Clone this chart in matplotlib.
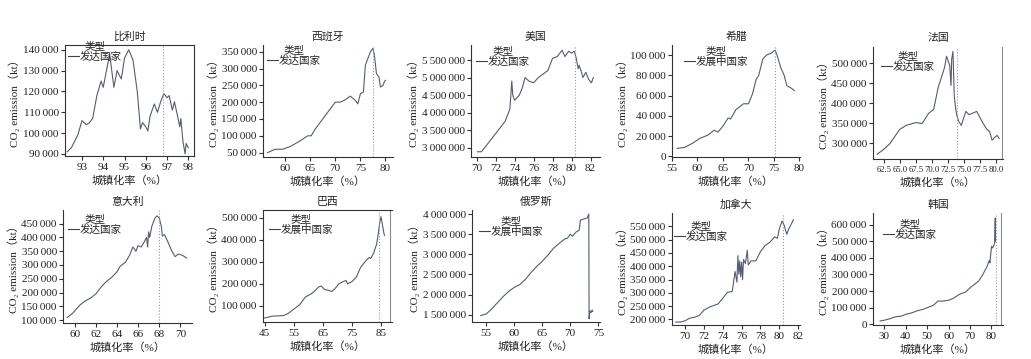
import numpy as np
import matplotlib
matplotlib.use('Agg')
import matplotlib.pyplot as plt
from matplotlib.ticker import FuncFormatter

plt.rcParams['font.family'] = ['Liberation Serif', 'DejaVu Serif', 'Noto Sans CJK SC']
plt.rcParams['font.size'] = 8
plt.rcParams['axes.linewidth'] = 0.8
plt.rcParams['xtick.major.size'] = 3
plt.rcParams['ytick.major.size'] = 3
plt.rcParams['xtick.major.pad'] = 2
plt.rcParams['ytick.major.pad'] = 1.5

# ---- data ----
be_x = [92.3, 92.5, 92.8, 93.0, 93.2, 93.35, 93.5, 93.7, 93.9, 94.0, 94.3, 94.5, 94.65, 94.85,
        95.0, 95.2, 95.4, 95.6, 95.75, 95.85, 96.0, 96.1, 96.2, 96.4, 96.55, 96.7, 96.85,
        97.0, 97.1, 97.25, 97.35, 97.5, 97.6, 97.65, 97.75, 97.85, 97.9, 98.0]
be_y = [91000, 93000, 99000, 106000, 104000, 105000, 107000, 118000, 125000, 122000, 138000,
        122000, 130000, 126000, 136000, 140000, 135000, 120000, 102000, 105000, 103000, 101000,
        108000, 114000, 110000, 115000, 119000, 117000, 118000, 111000, 115000, 108000, 103000,
        107000, 96000, 90000, 95000, 93000]

es_x = [56.5, 58, 59.5, 61, 63, 64.5, 65.2, 66, 68, 70, 71, 72, 73, 74, 74.5, 75, 75.6, 76,
        76.5, 77, 77.5, 77.8, 78.2, 78.7, 79, 79.5, 79.8, 80]
es_y = [50000, 60000, 60000, 68000, 85000, 100000, 100000, 120000, 160000, 200000, 200000,
        207000, 218000, 205000, 195000, 225000, 230000, 310000, 330000, 350000, 360000, 340000,
        285000, 275000, 245000, 250000, 262000, 265000]

us_x = [70.1, 70.5, 71, 72, 73, 73.5, 73.7, 73.8, 74.0, 74.5, 74.8, 75.1, 75.5, 76, 76.5, 77,
        77.5, 78, 78.5, 79, 79.3, 79.7, 80.0, 80.3, 80.5, 80.7, 80.8, 81.0, 81.2, 81.5, 81.8,
        82.1, 82.3]
us_y = [2880000, 2880000, 3050000, 3400000, 3750000, 4100000, 4900000, 4500000, 4350000,
        4500000, 4700000, 5000000, 4900000, 4850000, 5000000, 5100000, 5200000, 5550000,
        5600000, 5780000, 5600000, 5750000, 5700000, 5750000, 5550000, 5250000, 5350000,
        5200000, 5000000, 5150000, 4950000, 4850000, 5000000]

gr_x = [56, 57.5, 59, 60.5, 62, 63.3, 64, 65, 66, 66.5, 67.5, 69, 70, 70.8, 71.5, 72, 72.8,
        73.5, 74.5, 75.2, 75.6, 76.3, 77, 77.5, 78.5, 79]
gr_y = [8000, 9000, 13000, 18000, 21000, 26000, 24000, 30000, 38000, 37000, 46000, 52000,
        52000, 62000, 76000, 80000, 96000, 100000, 102000, 105000, 100000, 88000, 80000,
        70000, 67000, 65000]

fr_x = [61.5, 62.5, 63.5, 65, 66, 67.5, 68.5, 69.5, 70.3, 71.0, 72.0, 72.3, 72.8, 73.0, 73.1,
        73.3, 73.5, 73.7, 73.9, 74.2, 74.6, 75.0, 75.3, 75.8, 76.3, 77.0, 77.5, 78.0, 78.6,
        79.0, 79.4, 79.8, 80.2, 80.5]
fr_y = [273000, 285000, 300000, 335000, 345000, 352000, 350000, 375000, 385000, 440000,
        490000, 518000, 495000, 445000, 510000, 530000, 420000, 390000, 370000, 355000,
        345000, 365000, 380000, 372000, 375000, 380000, 365000, 350000, 335000, 330000,
        308000, 315000, 320000, 312000]

it_x = [59.3, 59.8, 60.5, 61, 61.5, 62, 62.5, 63, 63.5, 64, 64.3, 64.8, 65.2, 65.5, 65.8, 66.0,
        66.3, 66.6, 66.8, 66.9, 67.0, 67.1, 67.3, 67.6, 67.8, 68.0, 68.2, 68.3, 68.5, 68.8,
        69.2, 69.5, 69.8, 70.2, 70.6]
it_y = [110000, 125000, 155000, 170000, 180000, 195000, 220000, 240000, 255000, 275000,
        295000, 310000, 335000, 365000, 350000, 370000, 365000, 385000, 400000, 365000,
        420000, 400000, 440000, 470000, 478000, 470000, 440000, 405000, 410000, 385000,
        350000, 330000, 340000, 335000, 325000]

br_x = [45, 46, 47.5, 50, 51.5, 53, 55, 57, 59, 61, 62, 63.5, 64.5, 65.5, 67, 68, 69, 70.5,
        72, 73, 73.5, 75, 76.5, 78, 79.5, 81, 81.5, 82.5, 83.5, 84, 84.5, 85, 85.5, 86, 86.2]
br_y = [45000, 48000, 53000, 55000, 56000, 65000, 85000, 105000, 140000, 155000, 165000,
        185000, 190000, 175000, 170000, 165000, 175000, 200000, 210000, 215000, 200000,
        210000, 230000, 275000, 300000, 320000, 315000, 340000, 380000, 420000, 470000,
        505000, 470000, 430000, 420000]

ru_x = [54, 55, 56, 57, 58, 59, 60, 61, 62, 63, 64, 65, 66, 67, 68, 69, 69.5, 70, 70.4, 71,
        71.6, 71.8, 72.5, 73.0, 73.3, 73.35, 73.5, 73.7, 73.9, 74.0]
ru_y = [1480000, 1520000, 1650000, 1800000, 1950000, 2080000, 2180000, 2250000, 2380000,
        2550000, 2700000, 2830000, 2980000, 3150000, 3270000, 3380000, 3400000, 3500000,
        3450000, 3550000, 3600000, 3850000, 3880000, 3900000, 4000000, 1400000, 1600000,
        1550000, 1620000, 1580000]

ca_x = [69.0, 69.5, 70.0, 70.5, 71.0, 71.5, 72.0, 72.5, 73.0, 73.5, 74.0, 74.5, 75.0, 75.3,
        75.5, 75.6, 75.7, 75.8, 75.9, 76.0, 76.1, 76.2, 76.4, 76.6, 76.7, 77.0, 77.5, 78.0,
        78.5, 79.0, 79.5, 79.8, 80.0, 80.3, 80.5, 80.8, 81.0, 81.3, 81.5]
ca_y = [190000, 190000, 195000, 205000, 208000, 215000, 235000, 245000, 252000, 258000,
        280000, 302000, 305000, 380000, 340000, 440000, 370000, 420000, 360000, 415000,
        350000, 425000, 410000, 460000, 405000, 420000, 420000, 455000, 478000, 490000,
        510000, 505000, 540000, 570000, 555000, 520000, 540000, 560000, 575000]

kr_x = [28, 30, 33, 35, 38, 40, 43, 45, 48, 50, 53, 55, 57, 60, 62, 65, 68, 70, 72, 74, 76,
        78, 79, 79.3, 79.8, 80.1, 80.5, 81, 81.5, 81.7, 81.8, 81.9]
kr_y = [20000, 25000, 35000, 45000, 50000, 60000, 70000, 80000, 90000, 100000, 115000,
        140000, 140000, 145000, 155000, 180000, 195000, 220000, 240000, 260000, 300000,
        350000, 385000, 370000, 440000, 470000, 460000, 470000, 490000, 600000, 640000, 500000]

# name, x, y, legend label, xlim, ylim, xticks, yticks, dotted line x, solid line x, box
panels = [
    ('比利时', be_x, be_y, '发达国家', (92.2, 98.27), (89000, 142300),
     np.arange(93, 99, 1), np.arange(90000, 140001, 10000), 96.83, None, True),
    ('西班牙', es_x, es_y, '发达国家', (55.6, 81.5), (37000, 370000),
     np.arange(60, 81, 5), np.arange(50000, 350001, 50000), 77.6, None, False),
    ('美国', us_x, us_y, '发达国家', (69.4, 83.0), (2730000, 5930000),
     np.arange(70, 83, 2), np.arange(3000000, 5500001, 500000), 80.35, None, False),
    ('希腊', gr_x, gr_y, '发展中国家', (55.2, 80.1), (-500, 110000),
     np.arange(55, 81, 5), np.arange(0, 100001, 20000), 75.1, None, False),
    ('法国', fr_x, fr_y, '发达国家', (60.84, 81.1), (261000, 541000),
     np.arange(62.5, 80.1, 2.5), np.arange(300000, 500001, 50000), 74.0, 80.9, False),
    ('意大利', it_x, it_y, '发达国家', (58.9, 71.1), (90000, 499000),
     np.arange(60, 71, 2), np.arange(100000, 450001, 50000), 67.94, None, False),
    ('巴西', br_x, br_y, '发展中国家', (44.4, 88.8), (26700, 535000),
     np.arange(45, 86, 10), np.arange(100000, 500001, 100000), 84.2, 88.1, 'top'),
    ('俄罗斯', ru_x, ru_y, '发展中国家', (52.45, 75.3), (1320000, 4100000),
     np.arange(55, 76, 5), np.arange(1500000, 4000001, 500000), None, None, False),
    ('加拿大', ca_x, ca_y, '发达国家', (68.6, 82.2), (179000, 600000),
     np.arange(70, 83, 2), np.arange(200000, 550001, 50000), 80.4, None, False),
    ('韩国', kr_x, kr_y, '发达国家', (24.7, 85.4), (-4000, 670000),
     np.arange(30, 81, 10), np.arange(0, 600001, 100000), 82.0, 84.6, False),
]

# axes boxes in pixels: left, right, top, bottom, legend dx, legend dy
boxes = [
    (65, 194, 45, 156, 2, -5), (263, 393, 45, 157, 3, -1), (471, 600, 45, 157, 4, 0),
    (672, 800, 45, 157, 11, 0), (873, 1003, 47, 159, 7, 3),
    (63, 192, 210, 323, 4, 3), (263, 392, 210, 322, 5, 3), (472, 600, 210, 322, 6, 5),
    (672, 800, 213, 325, 1, 7), (873, 1003, 213, 325, 9, 5),
]

W, H = 1031, 359
fig = plt.figure(figsize=(W / 100, H / 100), dpi=100)
line_color = '#535c78'
txt_color = '#222222'

def fmt_num(v, pos):
    return '{:,}'.format(int(round(v))).replace(',', '\u2009')

def fmt_dec(v, pos):
    return '{:.1f}'.format(v)

for (name, x, y, lab, xl, yl, xt, yt, vdot, vsol, box), (l, r, t, b, ldx, ldy) in zip(panels, boxes):
    ax = fig.add_axes([l / W, 1 - b / H, (r - l) / W, (b - t) / H])
    ax.plot(x, y, color=line_color, lw=0.8, label=lab)
    if vdot is not None:
        ax.axvline(vdot, color='#9a9a9a', lw=0.8, ls=':')
    if vsol is not None:
        ax.axvline(vsol, color='#8a8a8a', lw=0.8)
    ax.set_xlim(*xl)
    ax.set_ylim(*yl)
    ax.set_xticks(xt)
    ax.set_yticks(yt)
    if name == '法国':
        ax.xaxis.set_major_formatter(FuncFormatter(fmt_dec))
        ax.tick_params(axis='x', labelsize=6.2)
    ax.yaxis.set_major_formatter(FuncFormatter(fmt_num))
    ax.spines['right'].set_visible(box is True)
    ax.spines['top'].set_visible(box is True or box == 'top')
    for s in ax.spines.values():
        s.set_color('#333333')
    ax.tick_params(colors='#333333', labelcolor=txt_color)
    # panel title placed in figure pixels just above the axes
    fig.text((l + r) / 2 / W, 1 - (t - 8.5) / H, name, fontsize=7.8, ha='center', va='center',
             color=txt_color)
    ax.set_xlabel('城镇化率（%）', fontsize=8, labelpad=2.5, color=txt_color)
    ax.set_ylabel('CO₂ emission（kt）', fontsize=8, labelpad=2, color=txt_color)
    anchor = (ldx / (r - l), 1 - ldy / (b - t))
    leg = ax.legend(title='类型', loc='upper left', bbox_to_anchor=anchor, frameon=False,
                    handlelength=1.0, handletextpad=0.1, borderaxespad=0, borderpad=0.1,
                    fontsize=7.6, title_fontsize=7.6, labelspacing=0.1)
    leg.get_title().set_color(txt_color)
    for txt in leg.get_texts():
        txt.set_color(txt_color)
    for h in leg.legend_handles:
        h.set_color('#444444')

fig.savefig('out.png', dpi=100)
